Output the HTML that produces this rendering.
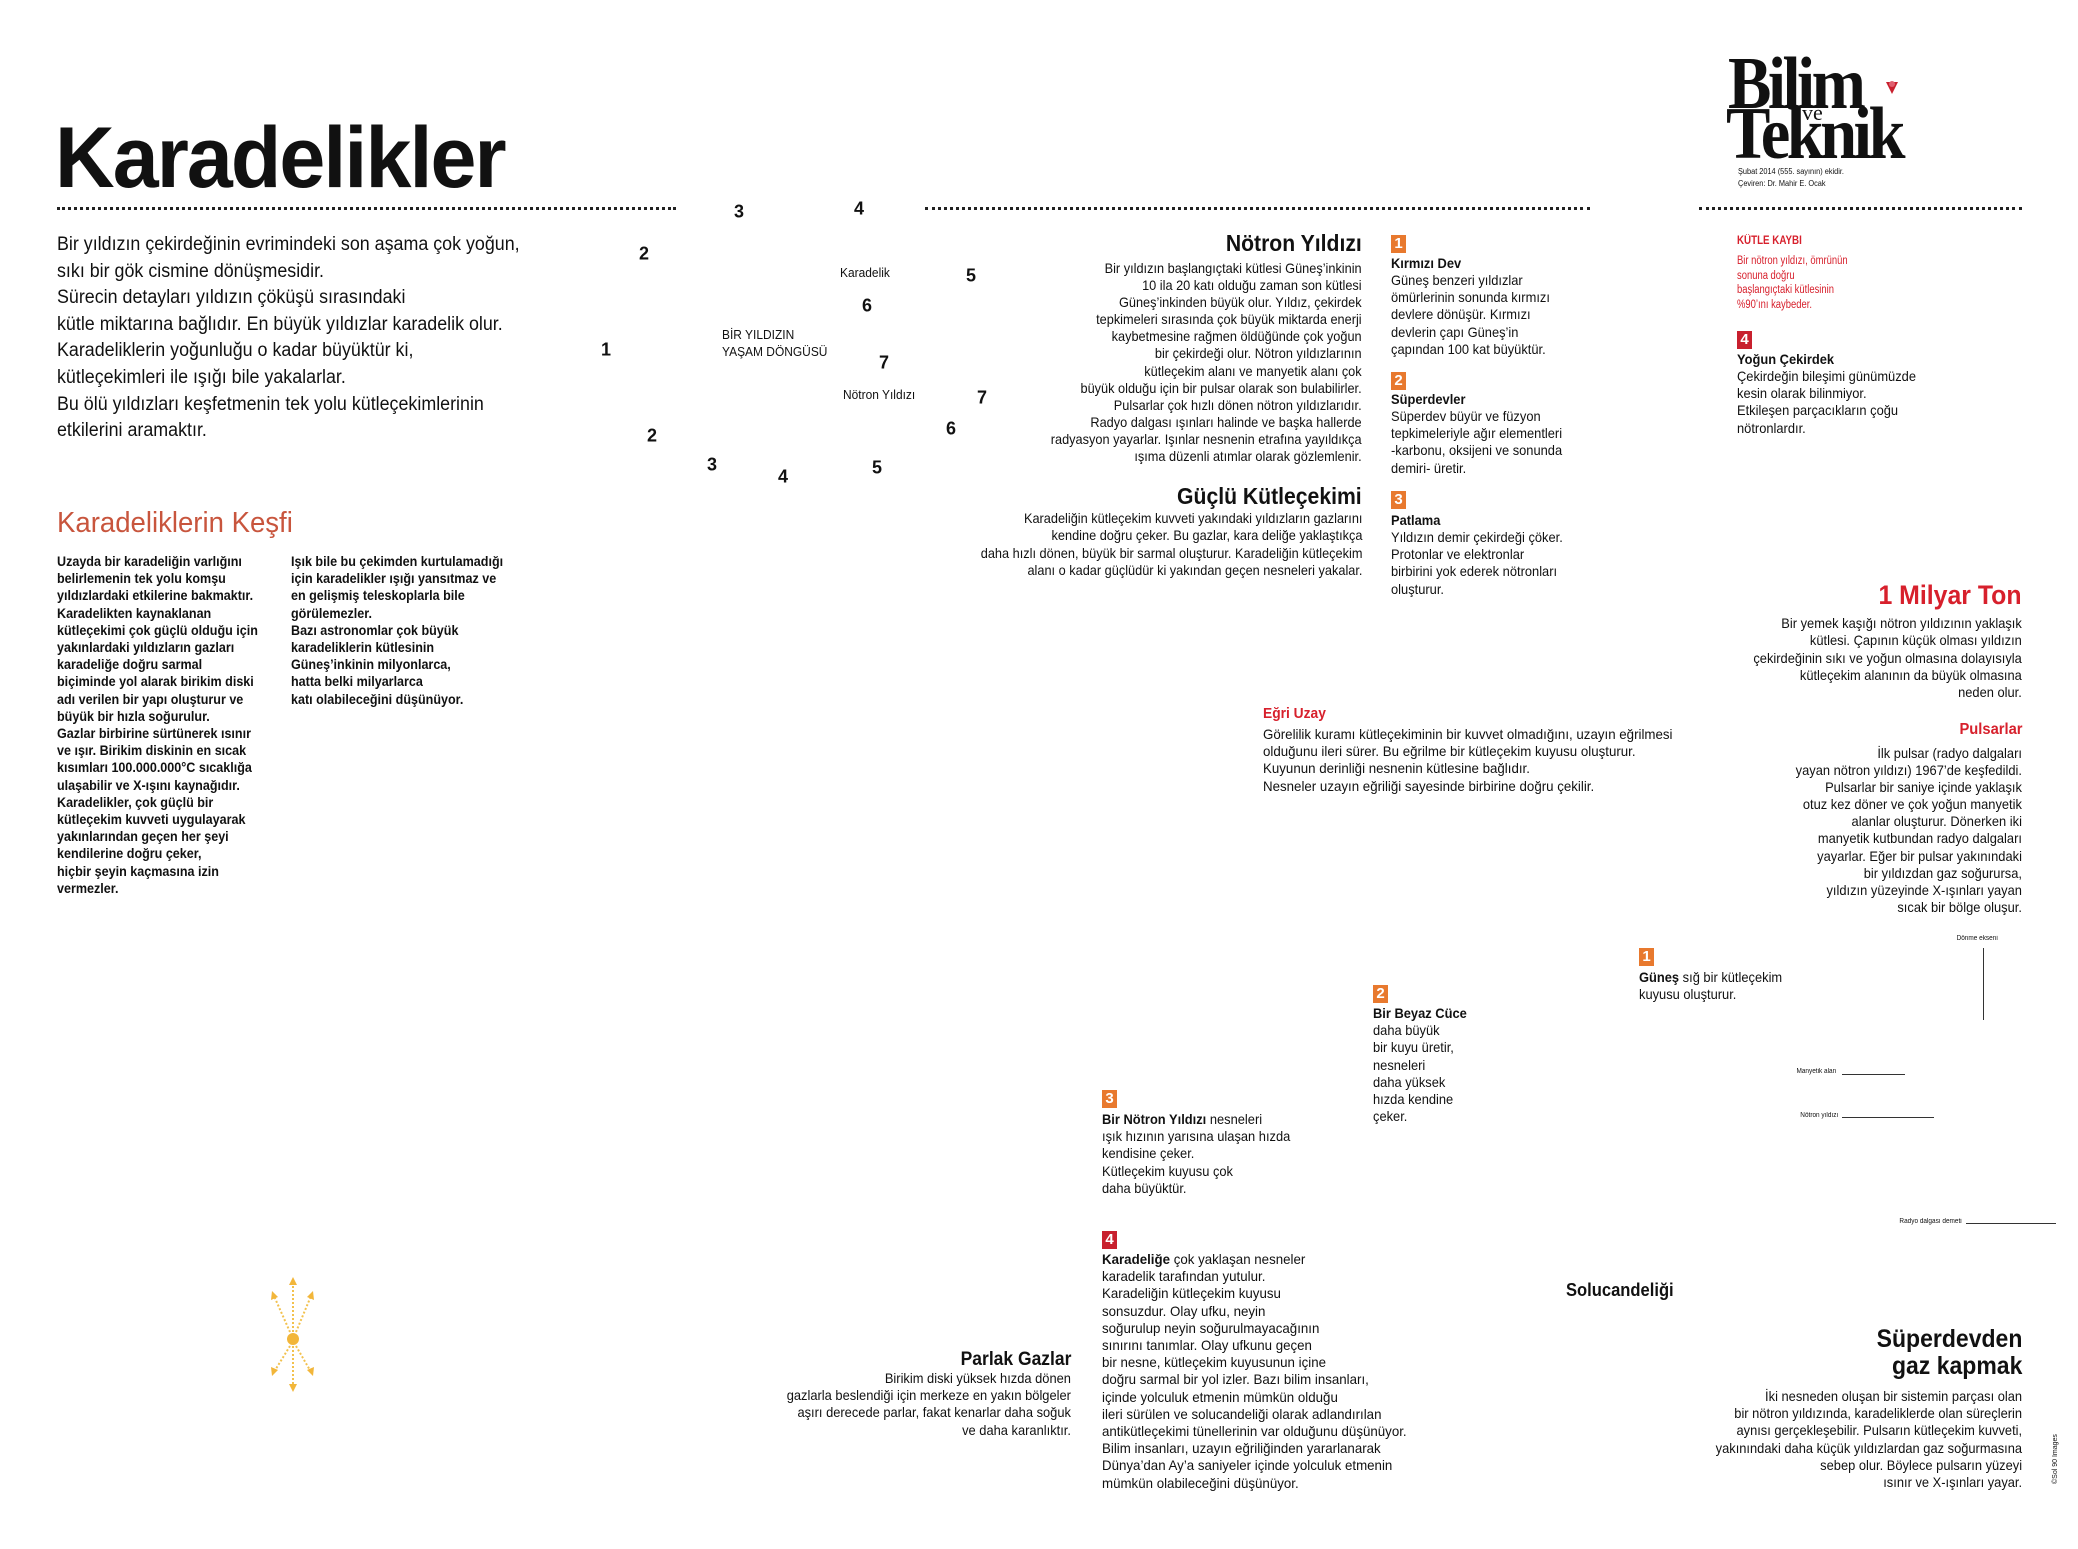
<!DOCTYPE html>
<html><head><meta charset="utf-8"><style>
html,body{margin:0;padding:0;background:#fff}
body{width:2078px;height:1549px;position:relative;overflow:hidden;font-family:"Liberation Sans Narrow","Liberation Sans",sans-serif;color:#111}
.a{position:absolute;white-space:nowrap}
.r{text-align:right}
.b{font-weight:bold}
.sl{transform:scaleX(.92);transform-origin:0 0}
.sr{transform:scaleX(.92);transform-origin:100% 0}
.dot{position:absolute;height:0;border-top:3px dotted #222}
.n{position:absolute;font-weight:bold;font-size:18px;transform:translate(-50%,-50%)}
.box{position:absolute;width:15px;height:18px;color:#fff;font-weight:bold;font-size:15px;line-height:18px;text-align:center}
.or{background:#e8792e}.rd{background:#c8202e}
.red{color:#d7202c}
</style></head><body>

<div class="a b" style="left:55px;top:108px;font-size:86px;line-height:100px;font-family:'Liberation Sans',sans-serif;letter-spacing:-2px;transform:scaleX(.96);transform-origin:0 0">Karadelikler</div>

<div class="dot" style="left:57px;top:207px;width:619px"></div>
<div class="dot" style="left:925px;top:207px;width:665px"></div>
<div class="dot" style="left:1699px;top:207px;width:323px"></div>

<div class="a" style="left:57px;top:232px;font-size:19px;line-height:26.6px;transform:scaleX(.94);transform-origin:0 0">Bir yıldızın çekirdeğinin evrimindeki son aşama çok yoğun,<br>sıkı bir gök cismine dönüşmesidir.<br>Sürecin detayları yıldızın çöküşü sırasındaki<br>kütle miktarına bağlıdır. En büyük yıldızlar karadelik olur.<br>Karadeliklerin yoğunluğu o kadar büyüktür ki,<br>kütleçekimleri ile ışığı bile yakalarlar.<br>Bu ölü yıldızları keşfetmenin tek yolu kütleçekimlerinin<br>etkilerini aramaktır.</div>

<div class="n" style="left:739px;top:212px">3</div>
<div class="n" style="left:859px;top:209px">4</div>
<div class="n" style="left:644px;top:254px">2</div>
<div class="a sl" style="left:840px;top:265px;font-size:13px">Karadelik</div>
<div class="n" style="left:971px;top:276px">5</div>
<div class="n" style="left:867px;top:306px">6</div>
<div class="n" style="left:606px;top:350px">1</div>
<div class="a sl" style="left:722px;top:326px;font-size:13px;line-height:17px">BİR YILDIZIN<br>YAŞAM DÖNGÜSÜ</div>
<div class="n" style="left:884px;top:363px">7</div>
<div class="a sl" style="left:843px;top:387px;font-size:13px">Nötron Yıldızı</div>
<div class="n" style="left:982px;top:398px">7</div>
<div class="n" style="left:951px;top:429px">6</div>
<div class="n" style="left:652px;top:436px">2</div>
<div class="n" style="left:712px;top:465px">3</div>
<div class="n" style="left:783px;top:477px">4</div>
<div class="n" style="left:877px;top:468px">5</div>

<div class="a" style="left:57px;top:507px;font-size:29px;color:#c8553d;font-family:'Liberation Sans',sans-serif;transform:scaleX(.95);transform-origin:0 0">Karadeliklerin Keşfi</div>
<div class="a b sl" style="left:57px;top:553px;font-size:13.5px;line-height:17.2px;transform:scaleX(.93)">Uzayda bir karadeliğin varlığını<br>belirlemenin tek yolu komşu<br>yıldızlardaki etkilerine bakmaktır.<br>Karadelikten kaynaklanan<br>kütleçekimi çok güçlü olduğu için<br>yakınlardaki yıldızların gazları<br>karadeliğe doğru sarmal<br>biçiminde yol alarak birikim diski<br>adı verilen bir yapı oluşturur ve<br>büyük bir hızla soğurulur.<br>Gazlar birbirine sürtünerek ısınır<br>ve ışır. Birikim diskinin en sıcak<br>kısımları 100.000.000°C sıcaklığa<br>ulaşabilir ve X-ışını kaynağıdır.<br>Karadelikler, çok güçlü bir<br>kütleçekim kuvveti uygulayarak<br>yakınlarından geçen her şeyi<br>kendilerine doğru çeker,<br>hiçbir şeyin kaçmasına izin<br>vermezler.</div>
<div class="a b sl" style="left:291px;top:553px;font-size:13.5px;line-height:17.2px;transform:scaleX(.93)">Işık bile bu çekimden kurtulamadığı<br>için karadelikler ışığı yansıtmaz ve<br>en gelişmiş teleskoplarla bile<br>görülemezler.<br>Bazı astronomlar çok büyük<br>karadeliklerin kütlesinin<br>Güneş’inkinin milyonlarca,<br>hatta belki milyarlarca<br>katı olabileceğini düşünüyor.</div>

<svg class="a" style="left:250px;top:1260px" width="90" height="150" viewBox="0 0 90 150">
<g stroke="#f2c14e" stroke-width="2" stroke-dasharray="2 2" fill="none">
<line x1="43" y1="72" x2="43" y2="22"/><line x1="40" y1="72" x2="24" y2="36"/><line x1="46" y1="72" x2="61" y2="36"/>
<line x1="43" y1="86" x2="43" y2="127"/><line x1="40" y1="86" x2="24" y2="112"/><line x1="46" y1="86" x2="61" y2="112"/>
</g>
<g fill="#f2b63a"><circle cx="43" cy="79" r="6"/>
<polygon points="43,17 39,25 47,25"/><polygon points="43,132 39,124 47,124"/>
<polygon points="22,31 21,40 28,37"/><polygon points="63,31 64,40 57,37"/>
<polygon points="22,116 21,107 28,110"/><polygon points="63,116 64,107 57,110"/></g>
</svg>

<div class="a r b sr" style="right:716px;top:230px;font-size:23px">Nötron Yıldızı</div>
<div class="a r sr" style="right:716px;top:260px;font-size:14px;line-height:17.1px;transform:scaleX(.91)">Bir yıldızın başlangıçtaki kütlesi Güneş’inkinin<br>10 ila 20 katı olduğu zaman son kütlesi<br>Güneş’inkinden büyük olur. Yıldız, çekirdek<br>tepkimeleri sırasında çok büyük miktarda enerji<br>kaybetmesine rağmen öldüğünde çok yoğun<br>bir çekirdeği olur. Nötron yıldızlarının<br>kütleçekim alanı ve manyetik alanı çok<br>büyük olduğu için bir pulsar olarak son bulabilirler.<br>Pulsarlar çok hızlı dönen nötron yıldızlarıdır.<br>Radyo dalgası ışınları halinde ve başka hallerde<br>radyasyon yayarlar. Işınlar nesnenin etrafına yayıldıkça<br>ışıma düzenli atımlar olarak gözlemlenir.</div>
<div class="a r b sr" style="right:716px;top:483px;font-size:23px">Güçlü Kütleçekimi</div>
<div class="a r sr" style="right:716px;top:510px;font-size:14px;line-height:17.3px;transform:scaleX(.91)">Karadeliğin kütleçekim kuvveti yakındaki yıldızların gazlarını<br>kendine doğru çeker. Bu gazlar, kara deliğe yaklaştıkça<br>daha hızlı dönen, büyük bir sarmal oluşturur. Karadeliğin kütleçekim<br>alanı o kadar güçlüdür ki yakından geçen nesneleri yakalar.</div>

<div class="box or" style="left:1391px;top:235px">1</div>
<div class="a b sl" style="left:1391px;top:255px;font-size:14px">Kırmızı Dev</div>
<div class="a sl" style="left:1391px;top:272px;font-size:14px;line-height:17.2px">Güneş benzeri yıldızlar<br>ömürlerinin sonunda kırmızı<br>devlere dönüşür. Kırmızı<br>devlerin çapı Güneş’in<br>çapından 100 kat büyüktür.</div>
<div class="box or" style="left:1391px;top:372px">2</div>
<div class="a b sl" style="left:1391px;top:391px;font-size:14px">Süperdevler</div>
<div class="a sl" style="left:1391px;top:408px;font-size:14px;line-height:17.2px">Süperdev büyür ve füzyon<br>tepkimeleriyle ağır elementleri<br>-karbonu, oksijeni ve sonunda<br>demiri- üretir.</div>
<div class="box or" style="left:1391px;top:491px">3</div>
<div class="a b sl" style="left:1391px;top:512px;font-size:14px">Patlama</div>
<div class="a sl" style="left:1391px;top:529px;font-size:14px;line-height:17.2px">Yıldızın demir çekirdeği çöker.<br>Protonlar ve elektronlar<br>birbirini yok ederek nötronları<br>oluşturur.</div>

<div class="a b" style="left:1728px;top:44px;font-size:74px;line-height:80px;font-family:'Liberation Serif',serif;letter-spacing:-4px;transform:scaleX(.88);transform-origin:0 0">Bilim</div>
<div class="a b" style="left:1726px;top:94px;font-size:74px;line-height:80px;font-family:'Liberation Serif',serif;letter-spacing:-4px;transform:scaleX(.9);transform-origin:0 0">Teknik</div>
<div class="a" style="left:1802px;top:100px;font-size:22px;font-family:'Liberation Serif',serif;background:transparent">ve</div>
<svg class="a" style="left:1884px;top:78px" width="16" height="18"><polygon points="2,4 14,4 8,16" fill="#c8202e"/><circle cx="8" cy="6" r="3" fill="#e06070"/></svg>
<div class="a sl" style="left:1738px;top:166px;font-size:8px;line-height:12px">Şubat 2014 (555. sayının) ekidir.<br>Çeviren: Dr. Mahir E. Ocak</div>

<div class="a b red sl" style="left:1737px;top:235px;font-size:11.5px;transform:scaleX(.85)">KÜTLE KAYBI</div>
<div class="a red sl" style="left:1737px;top:254px;font-size:11.5px;line-height:14.5px;transform:scaleX(.82)">Bir nötron yıldızı, ömrünün<br>sonuna doğru<br>başlangıçtaki kütlesinin<br>%90’ını kaybeder.</div>
<div class="box rd" style="left:1737px;top:331px">4</div>
<div class="a b sl" style="left:1737px;top:351px;font-size:14px">Yoğun Çekirdek</div>
<div class="a sl" style="left:1737px;top:368px;font-size:14px;line-height:17.2px">Çekirdeğin bileşimi günümüzde<br>kesin olarak bilinmiyor.<br>Etkileşen parçacıkların çoğu<br>nötronlardır.</div>

<div class="a r b red sr" style="right:56px;top:580px;font-size:27px">1 Milyar Ton</div>
<div class="a r sr" style="right:56px;top:615px;font-size:14px;line-height:17.3px">Bir yemek kaşığı nötron yıldızının yaklaşık<br>kütlesi. Çapının küçük olması yıldızın<br>çekirdeğinin sıkı ve yoğun olmasına dolayısıyla<br>kütleçekim alanının da büyük olmasına<br>neden olur.</div>
<div class="a r b red sr" style="right:56px;top:721px;font-size:16px">Pulsarlar</div>
<div class="a r sr" style="right:56px;top:745px;font-size:14px;line-height:17.1px">İlk pulsar (radyo dalgaları<br>yayan nötron yıldızı) 1967’de keşfedildi.<br>Pulsarlar bir saniye içinde yaklaşık<br>otuz kez döner ve çok yoğun manyetik<br>alanlar oluşturur. Dönerken iki<br>manyetik kutbundan radyo dalgaları<br>yayarlar. Eğer bir pulsar yakınındaki<br>bir yıldızdan gaz soğurursa,<br>yıldızın yüzeyinde X-ışınları yayan<br>sıcak bir bölge oluşur.</div>

<div class="a b red sl" style="left:1263px;top:705px;font-size:15px">Eğri Uzay</div>
<div class="a sl" style="left:1263px;top:726px;font-size:14px;line-height:17.2px;transform:scaleX(.95)">Görelilik kuramı kütleçekiminin bir kuvvet olmadığını, uzayın eğrilmesi<br>olduğunu ileri sürer. Bu eğrilme bir kütleçekim kuyusu oluşturur.<br>Kuyunun derinliği nesnenin kütlesine bağlıdır.<br>Nesneler uzayın eğriliği sayesinde birbirine doğru çekilir.</div>

<div class="a r sr" style="right:80px;top:935px;font-size:7px">Dönme ekseni</div>
<div class="a" style="left:1983px;top:948px;width:1px;height:72px;background:#333"></div>
<div class="a r sr" style="right:242px;top:1068px;font-size:7px">Manyetik alan</div>
<div class="a" style="left:1842px;top:1074px;width:63px;height:1px;background:#333"></div>
<div class="a r sr" style="right:240px;top:1112px;font-size:7px">Nötron yıldızı</div>
<div class="a" style="left:1842px;top:1117px;width:92px;height:1px;background:#333"></div>
<div class="a r sr" style="right:116px;top:1218px;font-size:7px">Radyo dalgası demeti</div>
<div class="a" style="left:1966px;top:1223px;width:90px;height:1px;background:#333"></div>

<div class="box or" style="left:1639px;top:948px">1</div>
<div class="a sl" style="left:1639px;top:969px;font-size:14px;line-height:17.2px"><b>Güneş</b> sığ bir kütleçekim<br>kuyusu oluşturur.</div>
<div class="box or" style="left:1373px;top:985px">2</div>
<div class="a sl" style="left:1373px;top:1005px;font-size:14px;line-height:17.2px"><b>Bir Beyaz Cüce</b><br>daha büyük<br>bir kuyu üretir,<br>nesneleri<br>daha yüksek<br>hızda kendine<br>çeker.</div>
<div class="box or" style="left:1102px;top:1090px">3</div>
<div class="a sl" style="left:1102px;top:1111px;font-size:14px;line-height:17.2px"><b>Bir Nötron Yıldızı</b> nesneleri<br>ışık hızının yarısına ulaşan hızda<br>kendisine çeker.<br>Kütleçekim kuyusu çok<br>daha büyüktür.</div>
<div class="box rd" style="left:1102px;top:1231px">4</div>
<div class="a sl" style="left:1102px;top:1251px;font-size:14px;line-height:17.2px;transform:scaleX(.95)"><b>Karadeliğe</b> çok yaklaşan nesneler<br>karadelik tarafından yutulur.<br>Karadeliğin kütleçekim kuyusu<br>sonsuzdur. Olay ufku, neyin<br>soğurulup neyin soğurulmayacağının<br>sınırını tanımlar. Olay ufkunu geçen<br>bir nesne, kütleçekim kuyusunun içine<br>doğru sarmal bir yol izler. Bazı bilim insanları,<br>içinde yolculuk etmenin mümkün olduğu<br>ileri sürülen ve solucandeliği olarak adlandırılan<br>antikütleçekimi tünellerinin var olduğunu düşünüyor.<br>Bilim insanları, uzayın eğriliğinden yararlanarak<br>Dünya’dan Ay’a saniyeler içinde yolculuk etmenin<br>mümkün olabileceğini düşünüyor.</div>

<div class="a b sl" style="left:1566px;top:1280px;font-size:18px">Solucandeliği</div>

<div class="a r b sr" style="right:1007px;top:1349px;font-size:19px">Parlak Gazlar</div>
<div class="a r sr" style="right:1007px;top:1370px;font-size:14px;line-height:17.2px">Birikim diski yüksek hızda dönen<br>gazlarla beslendiği için merkeze en yakın bölgeler<br>aşırı derecede parlar, fakat kenarlar daha soğuk<br>ve daha karanlıktır.</div>

<div class="a r b sr" style="right:56px;top:1326px;font-size:25px;line-height:27px">Süperdevden<br>gaz kapmak</div>
<div class="a r sr" style="right:56px;top:1388px;font-size:14px;line-height:17.2px">İki nesneden oluşan bir sistemin parçası olan<br>bir nötron yıldızında, karadeliklerde olan süreçlerin<br>aynısı gerçekleşebilir. Pulsarın kütleçekim kuvveti,<br>yakınındaki daha küçük yıldızlardan gaz soğurmasına<br>sebep olur. Böylece pulsarın yüzeyi<br>ısınır ve X-ışınları yayar.</div>

<div class="a" style="left:2052px;top:1484px;font-size:7px;transform:rotate(-90deg);transform-origin:0 0">©Sol 90 Images</div>
</body></html>
